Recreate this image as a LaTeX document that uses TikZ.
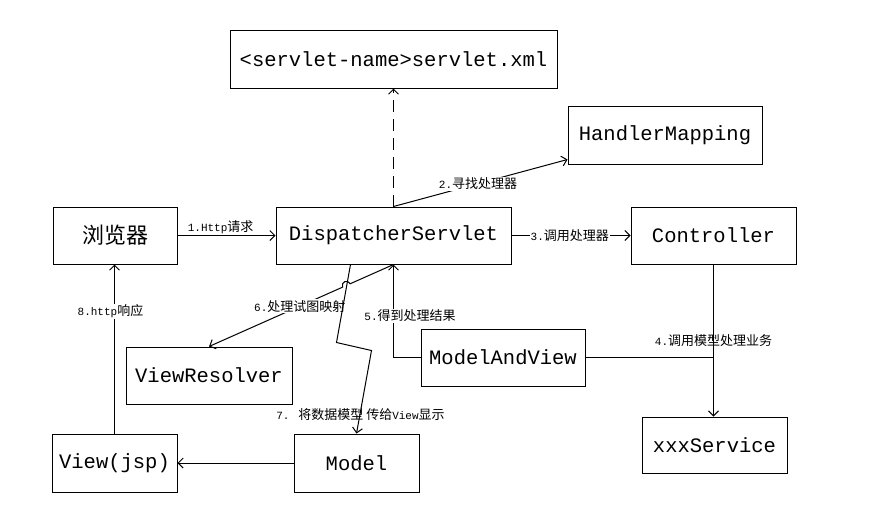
\documentclass[tikz,border=0pt]{standalone}
\usepackage{fontspec}
\usetikzlibrary{arrows.meta,calc}
\newfontfamily\boxfont{Liberation Mono}
\newfontfamily\cjk{Noto Sans CJK SC}
\newcommand\lm[1]{{\fontsize{11}{13}\selectfont\boxfont #1}}
\newcommand\lc[1]{{\fontsize{13}{15}\selectfont\cjk #1}}
\tikzset{
  box/.style={draw, line width=1pt, inner sep=0pt, font=\fontsize{20.5}{24}\selectfont\boxfont},
  conn/.style={line width=1pt},
  arr/.style={line width=1pt, -{Straight Barb[length=5pt,width=10pt]}},
  lab/.style={inner sep=1pt},
  wlab/.style={inner sep=1pt, fill=white},
}
\begin{document}
\begin{tikzpicture}[x=1pt,y=-1pt]
\useasboundingbox[fill=white] (0,0) rectangle (881,523);
% boxes
\node[box, minimum width=327pt, minimum height=58pt] (xml) at (393.5,59) {<servlet-name>servlet.xml};
\node[box, minimum width=194pt, minimum height=58pt] (hm) at (665,135) {HandlerMapping};
\node[box, minimum width=124pt, minimum height=57pt, font=\fontsize{22}{26}\selectfont\cjk] (br) at (115,235.5) {浏览器};
\node[box, minimum width=235pt, minimum height=57pt] (disp) at (393.5,235.5) {DispatcherServlet};
\node[box, minimum width=165pt, minimum height=57pt] (ctrl) at (713.5,235.5) {Controller};
\node[box, minimum width=164pt, minimum height=57pt] (mav) at (503,357.5) {ModelAndView};
\node[box, minimum width=166pt, minimum height=57pt] (vr) at (209,375.5) {ViewResolver};
\node[box, minimum width=125pt, minimum height=58pt] (view) at (114.5,463) {View(jsp)};
\node[box, minimum width=125pt, minimum height=58pt] (model) at (356.5,463) {Model};
\node[box, minimum width=145pt, minimum height=56pt] (svc) at (714.5,445) {xxxService};

% dashed to servlet.xml
\draw[arr, dash pattern=on 12pt off 7pt] (disp.north) -- (xml.south);
% 1
\draw[arr] (br.east) -- node[lab, above, pos=0.44] {\lm{1.Http}\lc{请求}} (disp.west);
% 2
\coordinate (hmin) at ($(hm.south west)+(0,-5)$);
\draw[arr] (disp.north) -- node[wlab, pos=0.486] {\lm{2.}\lc{寻找处理器}} (hmin);
% 3
\draw[arr] (disp.east) -- node[wlab, pos=0.49] {\lm{3.}\lc{调用处理器}} (ctrl.west);
% 4
\draw[arr] (ctrl.south) -- (ctrl.south |- svc.north);
\draw[conn] (mav.east) -- (ctrl.south |- mav.east);
\node[lab] (l4) at ($(ctrl.south)+(0,76)$) {\lm{4.}\lc{调用模型处理业务}};
% 5
\draw[arr] (mav.west) -| (disp.south);
\node[wlab] (l5) at ($(disp.south)+(16.5,51)$) {\lm{5.}\lc{得到处理结果}};
% 6 with jump
\coordinate (j1) at ($(disp.south)!0.235!(vr.north)$);
\coordinate (j2) at ($(disp.south)!0.276!(vr.north)$);
\draw[arr] (disp.south) -- (j1) .. controls ($(j1)!0.667!-90:(j2)$) and ($(j2)!0.667!90:(j1)$) .. (j2) -- (vr.north);
\node[wlab] (l6) at ($(disp.south)!0.508!(vr.north)$) {\lm{6.}\lc{处理试图映射}};
% 7
\coordinate (s7) at ($(disp.south west)+(75,0)$);
\coordinate (k1) at ($(disp.south west)+(61,78)$);
\coordinate (k2) at ($(disp.south west)+(96,86)$);
\draw[arr] (s7) -- (k1) -- (k2) -- (model.north);
\node[lab] (l7) at ($(model.north)+(4,-19)$) {\lm{7. }\lc{将数据模型 传给}\lm{View}\lc{显示}};
% 8
\draw[arr] (view.north) -- (view.north |- br.south);
\node[wlab] (l8) at ($(view.north)+(-4,-122)$) {\lm{8.http}\lc{响应}};
% model -> view
\draw[arr] (model.west) -- (view.east);
\end{tikzpicture}
\end{document}
